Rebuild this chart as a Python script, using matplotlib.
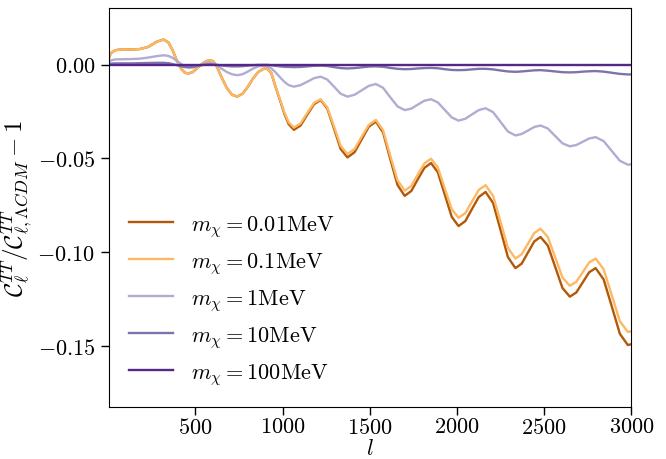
import numpy as np
import matplotlib
matplotlib.use("Agg")
import matplotlib.pyplot as plt

plt.rcParams['mathtext.fontset'] = 'cm'
plt.rcParams['font.family'] = 'serif'
plt.rcParams['font.serif'] = ['cmr10', 'DejaVu Serif']
plt.rcParams['axes.formatter.use_mathtext'] = True

# multipoles
ell = [2, 15, 40, 80, 130, 180, 230, 280, 317, 345, 370, 395, 420, 440, 461,
       485, 510, 540, 565, 586, 605, 625, 650, 680, 710, 739, 770, 800, 830,
       860, 890, 911, 935, 960, 985, 1010, 1035, 1065, 1103, 1141, 1180, 1218,
       1256, 1295, 1333, 1372, 1413, 1453, 1494, 1535, 1576, 1617, 1659, 1700,
       1738, 1775, 1813, 1851, 1890, 1930, 1970, 2009, 2048, 2086, 2125, 2164,
       2207, 2250, 2292, 2335, 2371, 2407, 2443, 2479, 2521, 2563, 2605, 2647,
       2684, 2721, 2758, 2795, 2841, 2888, 2934, 2980, 3000]

# m = 0.01 MeV
r_001 = [0.0030, 0.0060, 0.0076, 0.0081, 0.0080, 0.0082, 0.0094, 0.0122, 0.0133,
         0.0118, 0.0075, 0.0018, -0.0025, -0.0044, -0.0048, -0.0040, -0.0020,
         0.0005, 0.0019, 0.0023, 0.0015, -0.0015, -0.0068, -0.0125, -0.0161,
         -0.0171, -0.0156, -0.0120, -0.0075, -0.0040, -0.0023, -0.0021, -0.0045,
         -0.0120, -0.0190, -0.0262, -0.0318, -0.0348, -0.0325, -0.0268, -0.0212,
         -0.0189, -0.0234, -0.0342, -0.0450, -0.0495, -0.0467, -0.0400, -0.0332,
         -0.0304, -0.0362, -0.0502, -0.0642, -0.0700, -0.0674, -0.0612, -0.0551,
         -0.0525, -0.0574, -0.0693, -0.0812, -0.0861, -0.0834, -0.0770, -0.0706,
         -0.0679, -0.0738, -0.0882, -0.1026, -0.1085, -0.1061, -0.1002, -0.0943,
         -0.0919, -0.0965, -0.1078, -0.1191, -0.1237, -0.1215, -0.1161, -0.1107,
         -0.1085, -0.1145, -0.1290, -0.1435, -0.1495, -0.1490]

# m = 0.1 MeV
r_01 = [0.0030, 0.0060, 0.0076, 0.0081, 0.0080, 0.0082, 0.0094, 0.0122, 0.0133,
        0.0118, 0.0075, 0.0018, -0.0025, -0.0044, -0.0048, -0.0040, -0.0020,
        0.0005, 0.0019, 0.0023, 0.0015, -0.0015, -0.0068, -0.0125, -0.0161,
        -0.0171, -0.0156, -0.0120, -0.0075, -0.0040, -0.0023, -0.0021, -0.0045,
        -0.0118, -0.0186, -0.0255, -0.0308, -0.0336, -0.0314, -0.0259, -0.0205,
        -0.0185, -0.0228, -0.0331, -0.0434, -0.0477, -0.0450, -0.0386, -0.0322,
        -0.0295, -0.0350, -0.0484, -0.0617, -0.0672, -0.0647, -0.0587, -0.0527,
        -0.0502, -0.0548, -0.0660, -0.0771, -0.0817, -0.0792, -0.0730, -0.0668,
        -0.0643, -0.0700, -0.0839, -0.0977, -0.1034, -0.1011, -0.0955, -0.0898,
        -0.0875, -0.0919, -0.1027, -0.1135, -0.1179, -0.1158, -0.1107, -0.1055,
        -0.1034, -0.1091, -0.1230, -0.1368, -0.1425, -0.1421]

# m = 1 MeV
r_1 = [0.0012, 0.0022, 0.0027, 0.0028, 0.0029, 0.0031, 0.0037, 0.0045, 0.0049,
       0.0046, 0.0035, 0.0018, 0.0002, -0.0010, -0.0015, -0.0016, -0.0010,
       0.0001, 0.0008, 0.0008, 0.0004, -0.0006, -0.0022, -0.0040, -0.0052,
       -0.0057, -0.0052, -0.0038, -0.0022, -0.0010, -0.0007, -0.0009, -0.0020,
       -0.0042, -0.0068, -0.0092, -0.0110, -0.0118, -0.0110, -0.0092, -0.0073,
       -0.0065, -0.0080, -0.0118, -0.0156, -0.0171, -0.0161, -0.0138, -0.0114,
       -0.0104, -0.0124, -0.0174, -0.0223, -0.0243, -0.0235, -0.0214, -0.0193,
       -0.0185, -0.0202, -0.0242, -0.0282, -0.0299, -0.0289, -0.0266, -0.0243,
       -0.0233, -0.0254, -0.0306, -0.0357, -0.0378, -0.0370, -0.0352, -0.0333,
       -0.0325, -0.0341, -0.0381, -0.0420, -0.0436, -0.0429, -0.0412, -0.0394,
       -0.0387, -0.0408, -0.0461, -0.0513, -0.0534, -0.0532]

# m = 10 MeV
r_10 = [0.0003, 0.0005, 0.0006, 0.0006, 0.0006, 0.0007, 0.0008, 0.0009, 0.0009,
        0.0007, 0.0002, -0.0004, -0.0010, -0.0014, -0.0015, -0.0013, -0.0008,
        -0.0003, 0.0000, 0.0001, 0.0000, -0.0002, -0.0005, -0.0008, -0.0010,
        -0.0010, -0.0009, -0.0006, -0.0004, -0.0002, -0.0002, -0.0002, -0.0004,
        -0.0007, -0.0010, -0.0012, -0.0013, -0.0014, -0.0013, -0.0010, -0.0007,
        -0.0006, -0.0008, -0.0014, -0.0019, -0.0021, -0.0019, -0.0015, -0.0011,
        -0.0010, -0.0012, -0.0018, -0.0023, -0.0025, -0.0024, -0.0021, -0.0019,
        -0.0018, -0.0020, -0.0025, -0.0029, -0.0030, -0.0029, -0.0026, -0.0023,
        -0.0023, -0.0026, -0.0032, -0.0037, -0.0039, -0.0037, -0.0034, -0.0031,
        -0.0030, -0.0033, -0.0037, -0.0041, -0.0042, -0.0041, -0.0038, -0.0036,
        -0.0035, -0.0038, -0.0044, -0.0050, -0.0053, -0.0053]

# m = 100 MeV: indistinguishable from LCDM
r_100 = [0.0] * len(ell)

labels = [r'$m_\chi=0.01{\rm MeV}$', r'$m_\chi=0.1{\rm MeV}$', r'$m_\chi=1{\rm MeV}$',
          r'$m_\chi=10{\rm MeV}$', r'$m_\chi=100{\rm MeV}$']
colors = ['#b35806', '#fdb863', '#b2abd2', '#8073ac', '#542788']

fig, ax = plt.subplots(figsize=(6.66, 4.6), dpi=100)
fig.subplots_adjust(left=0.163, right=0.948, bottom=0.113, top=0.98)

for r, lab, c in zip([r_001, r_01, r_1, r_10, r_100], labels, colors):
    ax.plot(ell, r, color=c, lw=1.7, label=lab)

ax.set_xlim(2, 3000)
ax.set_ylim(-0.1825, 0.03)
ax.set_xticks([500, 1000, 1500, 2000, 2500, 3000])
ax.set_yticks([0.0, -0.05, -0.10, -0.15])
ax.yaxis.set_major_formatter(matplotlib.ticker.FormatStrFormatter(r'$%.2f$'))
ax.xaxis.set_major_formatter(matplotlib.ticker.FormatStrFormatter(r'$%d$'))
ax.tick_params(labelsize=16, length=6, width=1)
ax.tick_params(axis='x', pad=1)

ax.set_xlabel(r'$l$', fontsize=16, va='bottom')
ax.xaxis.set_label_coords(0.5, -0.127)
ax.set_ylabel(r'$\mathcal{C}_\ell^{TT}/\mathcal{C}_{\ell,\Lambda CDM}^{TT}-1$', fontsize=18, labelpad=2)

ax.legend(loc='lower left', frameon=False, fontsize=16)

fig.savefig('out.png')
